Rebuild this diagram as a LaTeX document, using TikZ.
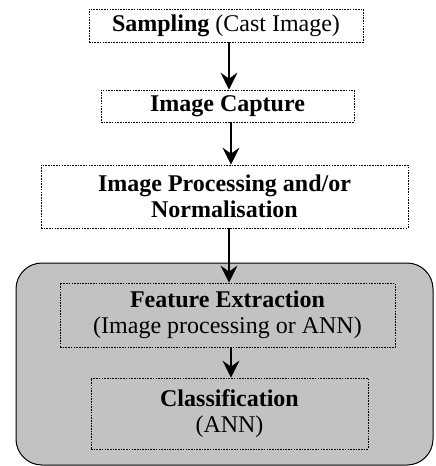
\documentclass[tikz,border=0pt]{standalone}
\usepackage{fontspec}
\setmainfont{Liberation Serif}
\usetikzlibrary{arrows.meta}
\begin{document}
\begin{tikzpicture}[x=1pt,y=-1pt,
  stage/.style={draw=black, line width=0.8pt, dash pattern=on 1.6pt off 1.1pt,
    inner sep=0pt, align=center, font=\fontsize{24}{26.5}\selectfont},
  flow/.style={draw=black, line width=1.1pt,
    -{Stealth[length=17pt,width=17pt,inset=6pt]}},
  shade/.style={draw=black, line width=1pt, rounded corners=26pt, fill=black!24}]
\useasboundingbox (0,0) rectangle (436,466);
% shaded group for the recognition stages
\draw[shade] (16,263) rectangle (433,465);
% stages
\node[stage, minimum width=274pt, minimum height=33pt] (samp) at (226,25.5)
  {\textbf{Sampling} (Cast Image)};
\node[stage, minimum width=253pt, minimum height=32pt] (cap) at (227.5,106)
  {\textbf{Image Capture}};
\node[stage, minimum width=367pt, minimum height=63pt] (proc) at (224.5,196.5)
  {\textbf{Image Processing and/or}\\\textbf{Normalisation}};
\node[stage, minimum width=335pt, minimum height=64pt] (feat) at (227.5,315)
  {\textbf{Feature Extraction}\\(Image processing or ANN)};
\node[stage, minimum width=277pt, minimum height=71pt] (cls) at (229.5,413.5)
  {\textbf{Classification}\\(ANN)};
% connectors
\coordinate (a1) at (229,0);
\coordinate (a2) at (231,0);
\coordinate (a3) at (229,0);
\coordinate (a4) at (231,0);
\draw[flow] (samp.south -| a1) -- (cap.north -| a1);
\draw[flow] (cap.south -| a2) -- (proc.north -| a2);
\draw[flow] (proc.south -| a3) -- (feat.north -| a3);
\draw[flow] (feat.south -| a4) -- (cls.north -| a4);
\end{tikzpicture}
\end{document}
